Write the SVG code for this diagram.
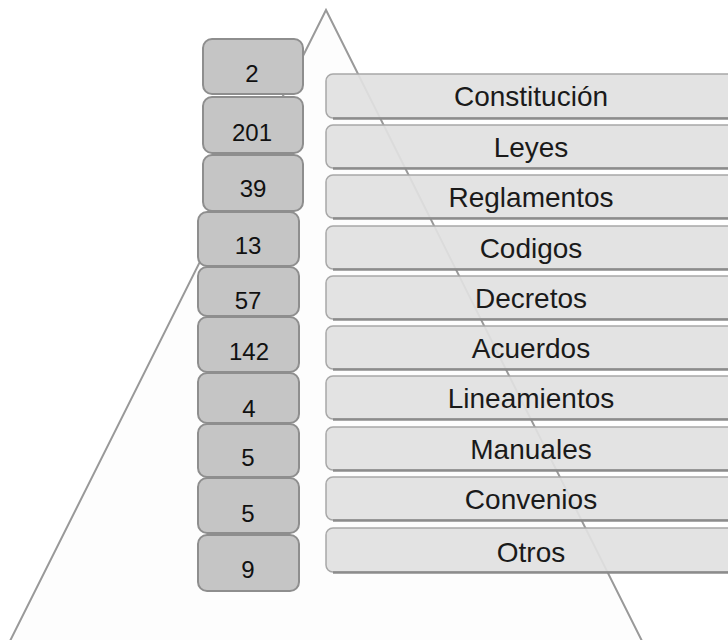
<svg xmlns="http://www.w3.org/2000/svg" width="728" height="640" viewBox="0 0 728 640">
<style>
.num rect{fill:#c5c5c5;stroke:#8e8e8e;stroke-width:2}
.num text{font-family:"Liberation Sans",Arial,sans-serif;font-size:24px;fill:#111;text-anchor:middle}
.lab rect{fill:#e1e1e1;fill-opacity:0.92;stroke:#a8a8a8;stroke-width:1.5}
.lab path{fill:none;stroke:#8c8c8c;stroke-width:2.5}
.lab text{font-family:"Liberation Sans",Arial,sans-serif;font-size:28px;fill:#1a1a1a;text-anchor:middle}
</style>
<rect width="728" height="640" fill="#ffffff"/>
<g id="pyramid">
<path d="M10,641 L326,10 L642,641" fill="#fdfdfd" stroke="#999" stroke-width="2"/>
</g>
<g id="connectors"/>
<g id="n-2" class="num"><rect x="203" y="39" width="100" height="55" rx="9"/><text x="252" y="82">2</text></g>
<g id="n-201" class="num"><rect x="203" y="97" width="100" height="56" rx="9"/><text x="252" y="141">201</text></g>
<g id="n-39" class="num"><rect x="203" y="155" width="100" height="56" rx="9"/><text x="253" y="197">39</text></g>
<g id="n-13" class="num"><rect x="198" y="212" width="101" height="54" rx="9"/><text x="248" y="254">13</text></g>
<g id="n-57" class="num"><rect x="198" y="267" width="101" height="49" rx="9"/><text x="248" y="309">57</text></g>
<g id="n-142" class="num"><rect x="198" y="317" width="101" height="55" rx="9"/><text x="249" y="360">142</text></g>
<g id="n-4" class="num"><rect x="198" y="373" width="101" height="50" rx="9"/><text x="249" y="417">4</text></g>
<g id="n-5a" class="num"><rect x="198" y="424" width="101" height="53" rx="9"/><text x="248" y="466">5</text></g>
<g id="n-5b" class="num"><rect x="198" y="478" width="101" height="55" rx="9"/><text x="248" y="522">5</text></g>
<g id="n-9" class="num"><rect x="198" y="535" width="101" height="56" rx="9"/><text x="248" y="578">9</text></g>
<g id="l-constitucion" class="lab"><rect x="326" y="74" width="420" height="44" rx="7"/><path d="M333,118.5 H728"/><text x="531" y="106">Constitución</text></g>
<g id="l-leyes" class="lab"><rect x="326" y="125" width="420" height="43" rx="7"/><path d="M333,168.5 H728"/><text x="531" y="157">Leyes</text></g>
<g id="l-reglamentos" class="lab"><rect x="326" y="175" width="420" height="43" rx="7"/><path d="M333,218.5 H728"/><text x="531" y="207">Reglamentos</text></g>
<g id="l-codigos" class="lab"><rect x="326" y="226" width="420" height="43" rx="7"/><path d="M333,269.5 H728"/><text x="531" y="258">Codigos</text></g>
<g id="l-decretos" class="lab"><rect x="326" y="276" width="420" height="43" rx="7"/><path d="M333,319.5 H728"/><text x="531" y="308">Decretos</text></g>
<g id="l-acuerdos" class="lab"><rect x="326" y="326" width="420" height="43" rx="7"/><path d="M333,369.5 H728"/><text x="531" y="358">Acuerdos</text></g>
<g id="l-lineamientos" class="lab"><rect x="326" y="376" width="420" height="43" rx="7"/><path d="M333,419.5 H728"/><text x="531" y="408">Lineamientos</text></g>
<g id="l-manuales" class="lab"><rect x="326" y="427" width="420" height="43" rx="7"/><path d="M333,470.5 H728"/><text x="531" y="459">Manuales</text></g>
<g id="l-convenios" class="lab"><rect x="326" y="477" width="420" height="43" rx="7"/><path d="M333,520.5 H728"/><text x="531" y="509">Convenios</text></g>
<g id="l-otros" class="lab"><rect x="326" y="528" width="420" height="44" rx="7"/><path d="M333,572.5 H728"/><text x="531" y="562">Otros</text></g>
</svg>
